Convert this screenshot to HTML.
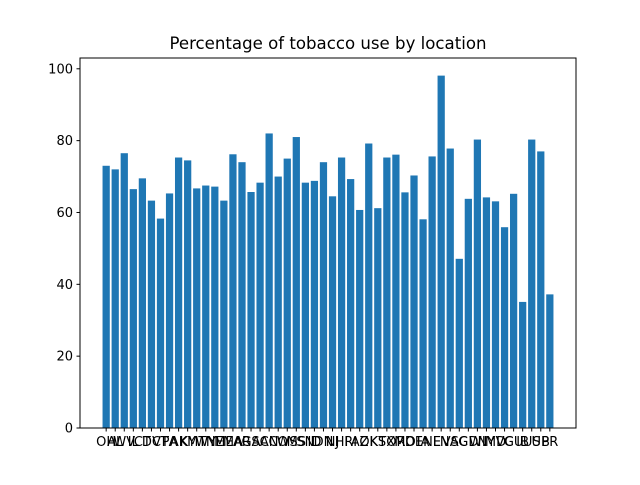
<!DOCTYPE html>
<html><head><meta charset="utf-8"><style>
body{margin:0;background:#fff;}
svg text{font-family:"DejaVu Sans","Liberation Sans",sans-serif;fill:#000;}
</style></head><body>
<svg id="chart" width="640" height="480" viewBox="0 0 640 480">
<rect width="640" height="480" fill="#fff"/>
<text x="328" y="49" font-size="16.6" text-anchor="middle">Percentage of tobacco use by location</text>
<g id="bars"></g>
<g id="xticks"></g>
<g id="yticks"></g>
<rect x="80" y="58" width="496" height="370" fill="none" stroke="#000" stroke-width="1"/>
</svg>
<script>
const categories = ["OH","AL","WV","IL","CT","DC","VT","PA","AK","KY","MT","WY","NE","ME","MA","AR","GA","SC","AN","CO","WS","MS","SN","ID","DN","NJ","HI","RI","AZ","OK","KS","TX","OR","MO","DE","IA","NE","LN","VA","SC","GD","WI","NY","MD","VC","GU","IB","US","UB","PR"];
const values = [73,72,76.5,66.5,69.5,63.3,58.3,65.3,75.3,74.5,66.7,67.5,67.2,63.3,76.2,74,65.7,68.3,82,70,75,81,68.3,68.8,74,64.5,75.3,69.3,60.7,79.2,61.2,75.3,76.1,65.6,70.3,58.1,75.6,98.1,77.8,47.1,63.8,80.3,64.2,63.1,55.9,65.2,35.1,80.3,77,37.2];
const yTicks = [0,20,40,60,80,100];

const L=80,R=576,T=58,B=428;
const n=categories.length;
const maxV=Math.max(...values);
const xmin=-0.4-(n-1+0.8)*0.05, xmax=n-1+0.4+(n-1+0.8)*0.05;
const ymax=maxV*1.05;
const xs=v=>L+(v-xmin)/(xmax-xmin)*(R-L);
const ys=v=>B-v/ymax*(B-T);
const NS="http://www.w3.org/2000/svg";
const bars=document.getElementById('bars'),xt=document.getElementById('xticks'),yt=document.getElementById('yticks');
values.forEach((v,i)=>{
  const r=document.createElementNS(NS,'rect');
  r.setAttribute('x',xs(i-0.4));r.setAttribute('width',xs(i+0.4)-xs(i-0.4));
  r.setAttribute('y',ys(v));r.setAttribute('height',B-ys(v));r.setAttribute('fill','#1f77b4');
  
  
  bars.appendChild(r);
  const l=document.createElementNS(NS,'line');
  l.setAttribute('x1',xs(i));l.setAttribute('x2',xs(i));l.setAttribute('y1',B);l.setAttribute('y2',B+3.5);l.setAttribute('stroke','#000');
  
  
  xt.appendChild(l);
  const t=document.createElementNS(NS,'text');
  t.setAttribute('x',xs(i));t.setAttribute('y',B+18);t.setAttribute('font-size','13');t.setAttribute('text-anchor','middle');
  t.textContent=categories[i];
  
  
  xt.appendChild(t);
});
yTicks.forEach(v=>{
  const l=document.createElementNS(NS,'line');
  l.setAttribute('x1',L-3.5);l.setAttribute('x2',L);l.setAttribute('y1',ys(v));l.setAttribute('y2',ys(v));l.setAttribute('stroke','#000');
  
  
  yt.appendChild(l);
  const t=document.createElementNS(NS,'text');
  t.setAttribute('x',L-7);t.setAttribute('y',ys(v)+4.5);t.setAttribute('font-size','13');t.setAttribute('text-anchor','end');
  t.textContent=v;
  
  
  yt.appendChild(t);
});
</script>
</body></html>
